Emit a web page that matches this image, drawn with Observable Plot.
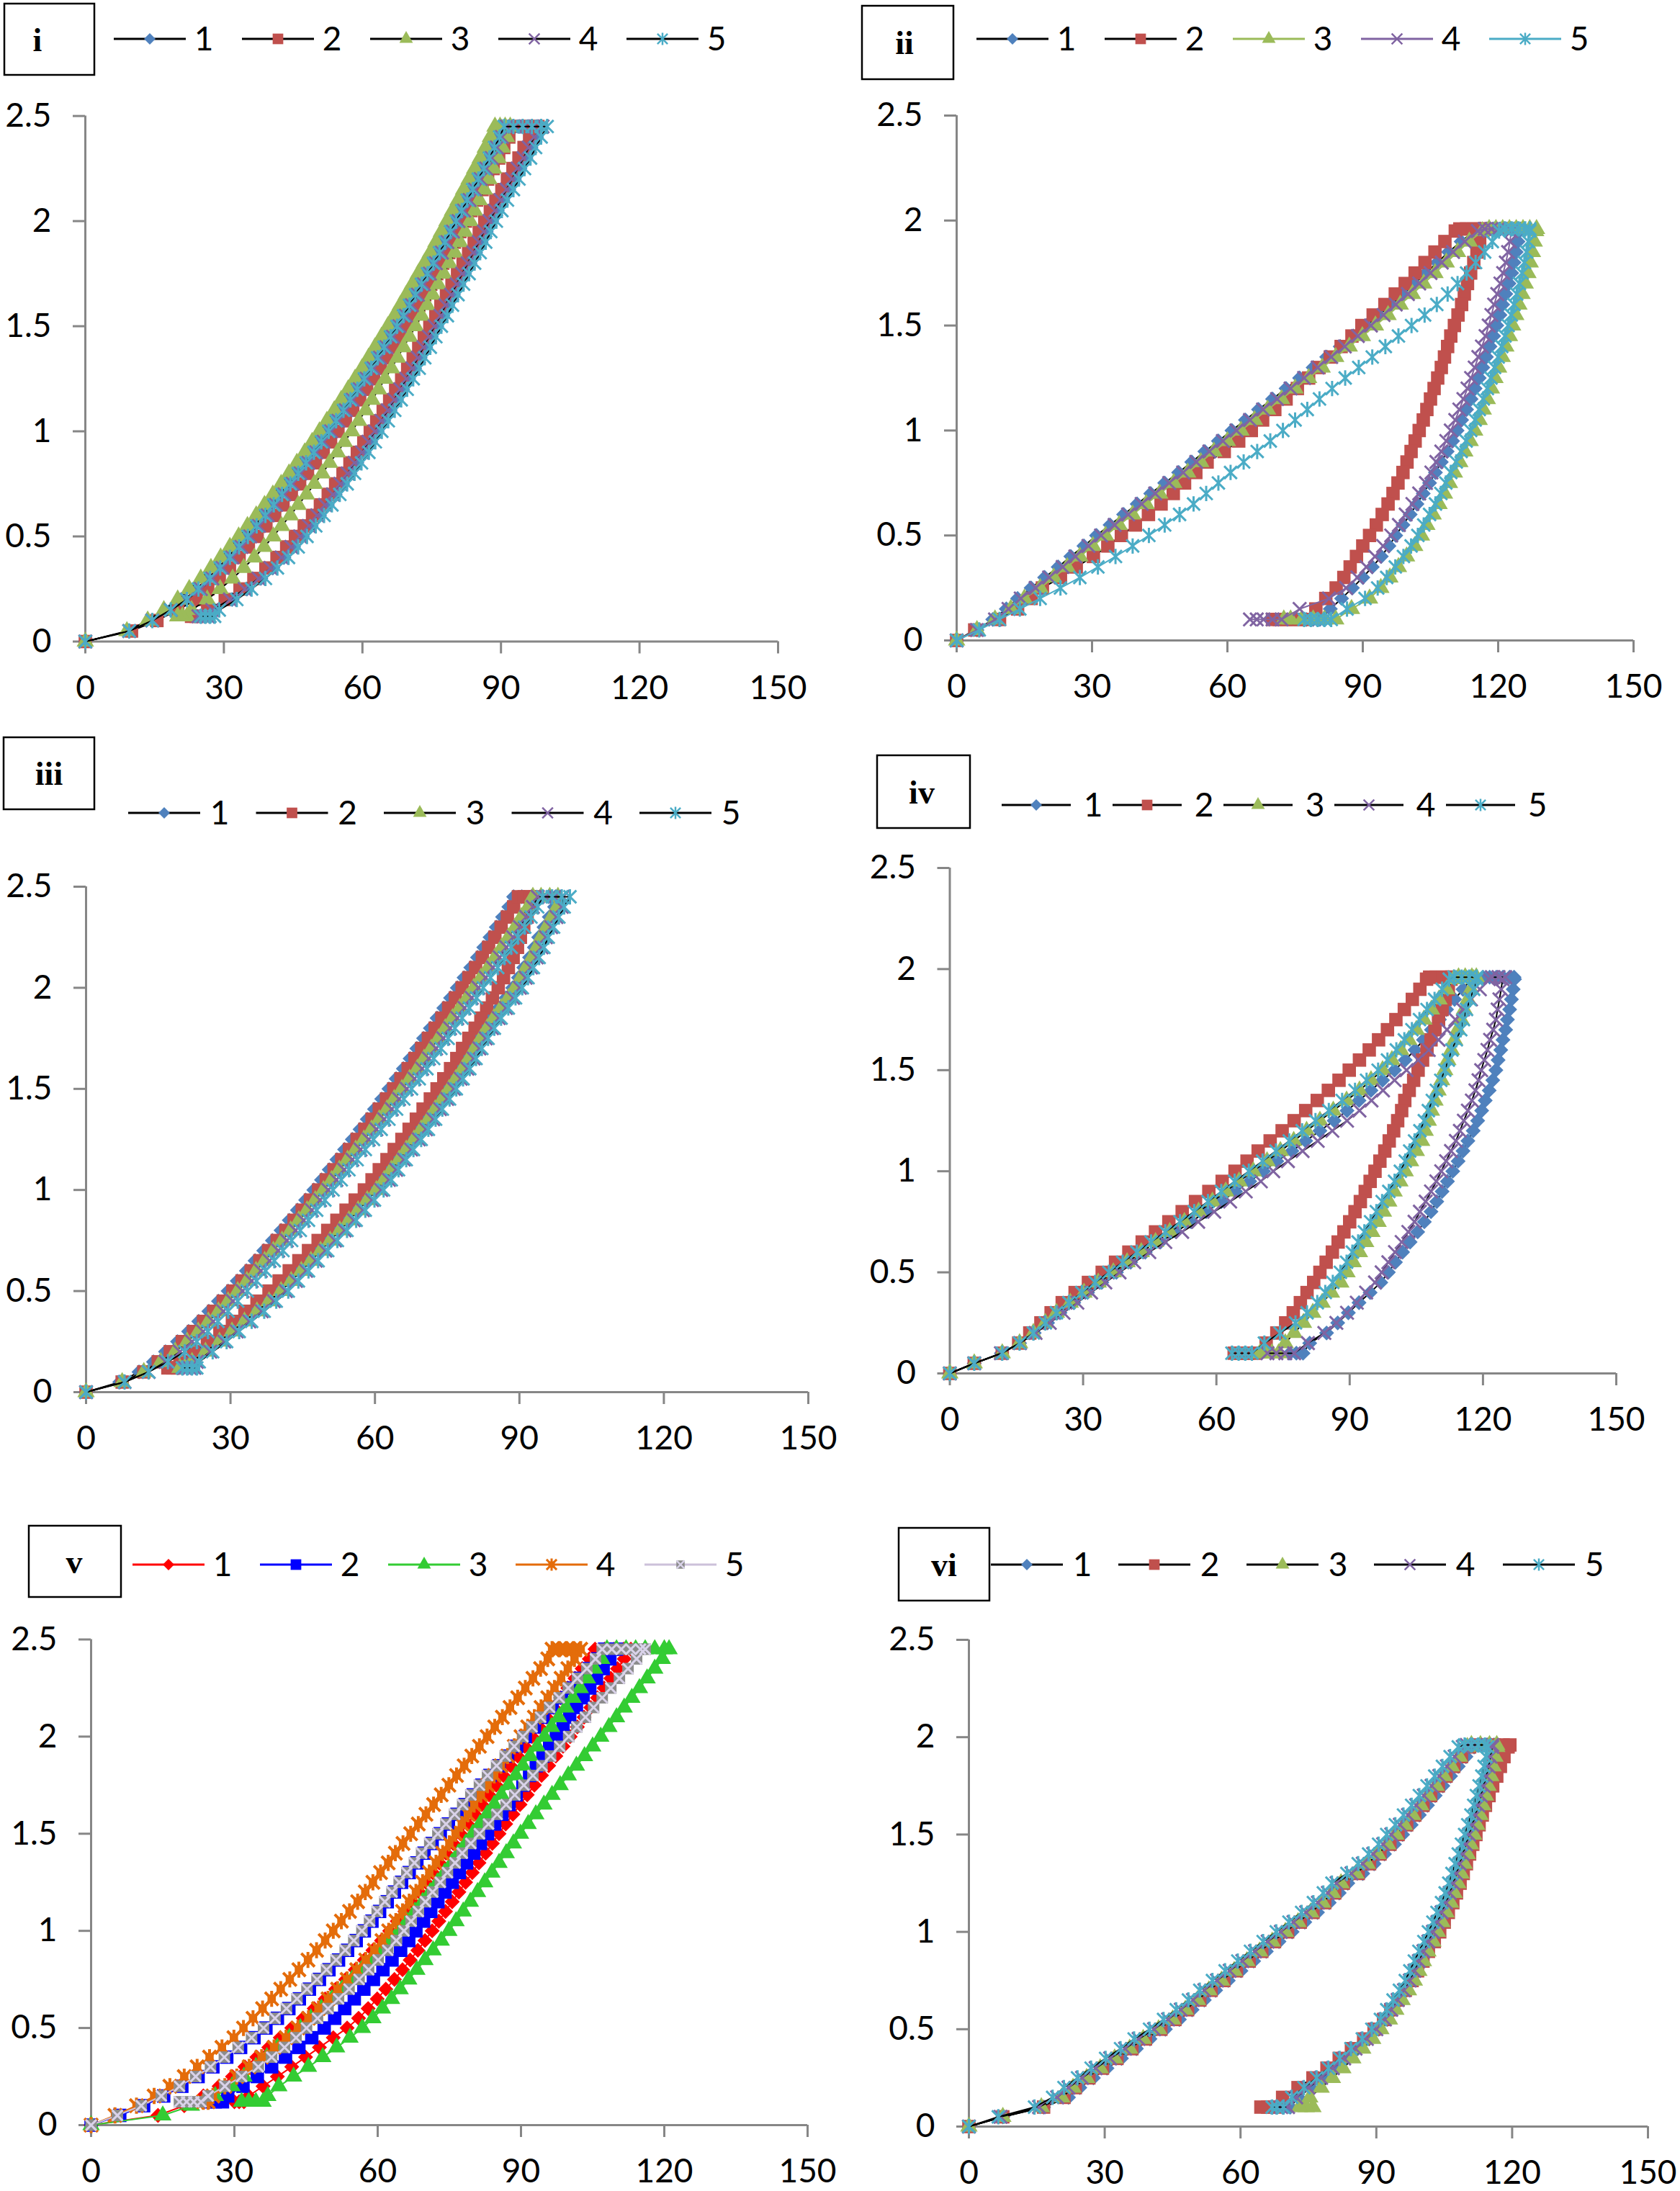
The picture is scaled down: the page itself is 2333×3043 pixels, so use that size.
<!DOCTYPE html>
<html><head><meta charset="utf-8">
<script src="https://cdn.jsdelivr.net/npm/d3@7"></script>
<script src="https://cdn.jsdelivr.net/npm/@observablehq/plot@0.6"></script>
<style>
html,body{margin:0;padding:0;background:#fff}
#root{position:relative;width:2333px;height:3043px;overflow:hidden;background:#fff;font-family:Lato,"Open Sans",sans-serif}
.pan{position:absolute}
#overlay{position:absolute;left:0;top:0;pointer-events:none}
</style></head>
<body><div id="root"></div>
<script>
// ---------- axis ticks, labels ----------
const xTicks = [0, 30, 60, 90, 120, 150];
const yTicks = [0, 0.5, 1, 1.5, 2, 2.5];
const seriesNames = ["1", "2", "3", "4", "5"];
const panelLabels = ["i", "ii", "iii", "iv", "v", "vi"];

// load levels (mN) at which markers were read
const loadLevelsA = [0,0.05,0.1,0.15,0.2,0.25,0.3,0.35,0.4,0.45,0.5,0.55,0.6,0.65,0.7,0.75,0.8,0.85,0.9,0.95,1,1.05,1.1,1.15,1.2,1.25,1.3,1.35,1.4,1.45,1.5,1.55,1.6,1.65,1.7,1.75,1.8,1.85,1.9,1.95,2,2.05,2.1,2.15,2.2,2.25,2.3,2.35,2.4];
const unloadLevelsA = [2.4,2.35,2.3,2.25,2.2,2.15,2.1,2.05,2,1.95,1.9,1.85,1.8,1.75,1.7,1.65,1.6,1.55,1.5,1.45,1.4,1.35,1.3,1.25,1.2,1.15,1.1,1.05,1,0.95,0.9,0.85,0.8,0.75,0.7,0.65,0.6,0.55,0.5,0.45,0.4,0.35,0.3,0.25,0.2,0.15];
const loadLevelsB = [0,0.05,0.1,0.15,0.2,0.25,0.3,0.35,0.4,0.45,0.5,0.55,0.6,0.65,0.7,0.75,0.8,0.85,0.9,0.95,1,1.05,1.1,1.15,1.2,1.25,1.3,1.35,1.4,1.45,1.5,1.55,1.6,1.65,1.7,1.75,1.8,1.85,1.9,1.95];
const unloadLevelsB = [1.95,1.9,1.85,1.8,1.75,1.7,1.65,1.6,1.55,1.5,1.45,1.4,1.35,1.3,1.25,1.2,1.15,1.1,1.05,1,0.95,0.9,0.85,0.8,0.75,0.7,0.65,0.6,0.55,0.5,0.45,0.4,0.35,0.3,0.25,0.2,0.15];
const peakA = 2.45, holdA = 0.12, peakB = 1.96, holdB = 0.1;

// ---------- panel i ----------
const p1Load1 = [0,9.5,14.5,18.5,21.5,24,26.5,28.7,30.8,32.8,34.7,36.6,38.5,40.3,42.1,43.9,45.6,47.3,49,50.6,52.2,53.8,55.4,56.9,58.4,59.9,61.4,62.8,64.2,65.6,67,68.4,69.7,71,72.3,73.6,74.9,76.2,77.4,78.6,79.8,81,82.2,83.4,84.6,85.8,87,88.1,89.2];
const p1Top1 = [90.2,92,94,96,98];
const p1Unload1 = [97.7,96.5,95.4,94.1,92.9,91.7,90.4,89.2,88,86.8,85.7,84.5,83.3,82.1,80.9,79.7,78.5,77.4,76.1,74.9,73.7,72.5,71.3,70,68.7,67.4,66,64.6,63.2,61.8,60.4,58.8,57.3,55.7,54.1,52.4,50.7,48.9,47,45.1,43,40.6,38,35,31.8,28];
const p1Bottom1 = [27,26,25];
const p1Load2 = [0,10,15.5,20,24,26.5,29,31.2,33.3,35.3,37.2,39.1,41,42.8,44.6,46.4,48.1,49.8,51.5,53.1,54.7,56.3,57.9,59.4,60.9,62.4,63.9,65.3,66.7,68.1,69.5,70.9,72.2,73.5,74.8,76.1,77.4,78.7,79.9,81.1,82.3,83.5,84.7,85.9,87.1,88.3,89.5,90.6,91.7];
const p1Top2 = [92.7,94.5,96.3,98];
const p1Unload2 = [96.2,95,93.9,92.6,91.4,90.2,88.9,87.7,86.5,85.3,84.2,83,81.8,80.6,79.4,78.2,77,75.9,74.6,73.4,72.2,71,69.8,68.5,67.2,65.9,64.5,63.1,61.7,60.3,58.9,57.3,55.8,54.2,52.6,50.9,49.2,47.4,45.5,43.6,41.5,39.1,36.5,33.5,30.3,26.5];
const p1Bottom2 = [25,24,23];
const p1Load3 = [0,9,13.5,17,20,22.5,25,27.2,29.3,31.3,33.2,35.1,37,38.8,40.6,42.4,44.1,45.8,47.5,49.1,50.7,52.3,53.9,55.4,56.9,58.4,59.9,61.3,62.7,64.1,65.5,66.9,68.2,69.5,70.8,72.1,73.4,74.7,75.9,77.1,78.3,79.5,80.7,81.9,83.1,84.3,85.5,86.6,87.7];
const p1Top3 = [88.7,89.8,90.9,92];
const p1Unload3 = [91.2,90.3,89.4,88.4,87.4,86.4,85.3,84.3,83.3,82.2,81.1,80,78.8,77.6,76.4,75.2,74,72.8,71.5,70.2,68.9,67.6,66.3,64.9,63.5,62.1,60.7,59.2,57.7,56.1,54.6,52.9,51.3,49.6,47.9,46.1,44.4,42.5,40.7,38.7,36.6,34.3,31.9,29.2,26.4,23];
const p1Bottom3 = [22,21,20];
const p1Load4 = [0,9.5,14.5,18.5,22,25,27.5,29.7,31.8,33.8,35.7,37.6,39.5,41.3,43.1,44.9,46.6,48.3,50,51.6,53.2,54.8,56.4,57.9,59.4,60.9,62.4,63.8,65.2,66.6,68,69.4,70.7,72,73.3,74.6,75.9,77.2,78.4,79.6,80.8,82,83.2,84.4,85.6,86.8,88,89.1,90.2];
const p1Top4 = [91.2,93,95,97,99];
const p1Unload4 = [97.2,96,94.9,93.6,92.4,91.2,89.9,88.7,87.5,86.3,85.2,84,82.8,81.6,80.4,79.2,78,76.9,75.6,74.4,73.2,72,70.8,69.5,68.2,66.9,65.5,64.1,62.7,61.3,59.9,58.3,56.8,55.2,53.6,51.9,50.2,48.4,46.5,44.6,42.5,40.1,37.5,34.5,31.3,27.5];
const p1Bottom4 = [26.5,25.5,24.5];
const p1Load5 = [0,9.5,14.5,18.5,22,24.5,27,29.2,31.3,33.3,35.2,37.1,39,40.8,42.6,44.4,46.1,47.8,49.5,51.1,52.7,54.3,55.9,57.4,58.9,60.4,61.9,63.3,64.7,66.1,67.5,68.9,70.2,71.5,72.8,74.1,75.4,76.7,77.9,79.1,80.3,81.5,82.7,83.9,85.1,86.3,87.5,88.6,89.7];
const p1Top5 = [90.7,92.7,94.7,96.7,98.7,100];
const p1Unload5 = [98.7,97.5,96.4,95.1,93.9,92.7,91.4,90.2,89,87.8,86.7,85.5,84.3,83.1,81.9,80.7,79.5,78.4,77.1,75.9,74.7,73.5,72.3,71,69.7,68.4,67,65.6,64.2,62.8,61.4,59.8,58.3,56.7,55.1,53.4,51.7,49.9,48,46.1,44,41.6,39,36,32.8,29];
const p1Bottom5 = [28,27,26,25];

// ---------- panel ii ----------
const p2Load1 = [0,4.5,8,11,13.5,16.5,19.5,22.5,25.3,28.2,31,34,37,40,43,46.1,49.2,52.1,55,58,61,64,66.9,70,73,76,79,82,85,87.9,90.8,93.6,96.3,99,101.5,104,106.5,109,111.8,114.7];
const p2Top1 = [116,117.5,119,120.5,122,123.5,125];
const p2Unload1 = [124.7,124.4,124,123.5,123,122.4,121.7,121,120.4,119.7,119,118.2,117.4,116.6,115.8,114.9,114,113,111.9,110.9,109.9,108.7,107.4,106.1,104.8,103.4,102,100.5,98.9,97.3,95.8,94.1,92.1,90,87.7,85.3,82.8];
const p2Bottom1 = [80.5,79,77.5];
const p2Load2 = [0,4,9.5,13.5,16.5,19,23,26.5,30.3,33.5,36.5,39.6,42.5,45.3,48,50.5,53,55.5,59.3,62.5,65.3,67.8,70.5,73,75.5,78,80.3,82.8,85.2,87.6,89.8,92.3,94.9,97.2,99.4,101.6,103.8,106,108.2,110.5];
const p2Top2 = [111.5,113,114.5,116,117];
const p2Unload2 = [116.6,115.9,115.3,114.6,113.9,113.2,112.5,111.9,111.1,110.3,109.5,108.8,108.1,107.4,106.6,105.8,105,104.2,103.4,102.5,101.6,100.7,99.8,98.9,97.8,96.7,95.6,94.3,93,91.5,90,88.6,87.2,85.8,84.1,81.8,79.6];
const p2Bottom2 = [77.5,76,74.5,73,71.5,70];
const p2Load3 = [0,4.5,8.5,12,15,18.5,21.5,24.5,27.3,30.2,33,36,39,42,45,48.1,51.2,54.1,57,60,63,66,68.9,72,75,78,81,84,87,89.9,92.8,95.6,98.3,101,103.5,106,108.5,111,113.6,116.5];
const p2Top3 = [118,119.5,121,122.5,124,125.5,127,128.5];
const p2Unload3 = [128.3,128,127.6,127.1,126.6,126,125.3,124.6,123.9,123.2,122.5,121.7,120.9,120.1,119.3,118.5,117.6,116.7,115.8,114.8,113.8,112.6,111.5,110.3,109.2,108.1,106.9,105.6,104.2,103,101.5,99.7,97.9,96,94,91.5,87.5];
const p2Bottom3 = [84,81.5,79,76.5,74,72.5];
const p2Load4 = [0,4.5,8.5,11.5,14.2,17.5,20.5,23.5,26.3,29.2,32,35,38,41,44,47.1,50.2,53.1,56,59,62,65,67.9,71,74,77,80,83,86,88.9,91.8,94.6,97.3,100,102.5,105,107.5,110,112.6,115.5];
const p2Top4 = [117,118.5,120,121.5,123];
const p2Unload4 = [122.9,122.6,122.2,121.7,121.1,120.5,119.8,119.1,118.5,117.9,117.2,116.4,115.6,114.8,114,113.2,112.3,111.4,110.5,109.5,108.5,107.4,106.3,105.2,104,102.5,101,99.5,98,96.3,94.5,92.7,90.8,88.8,86.3,82.5,76];
const p2Bottom4 = [72,70,68,66.5,65];
const p2Load5 = [0,5,9.5,14,18.5,23,27.3,31.3,35.2,39,42.6,46.1,49.4,52.5,55.3,58,60.7,63.6,66.6,69.5,72.3,75,77.7,80.4,83.2,86.1,89.1,92.1,95,97.9,100.8,103.7,106.4,108.8,111,113,115,117,118.7,120.2];
const p2Top5 = [121.5,123,124.5,126,127];
const p2Unload5 = [127,126.7,126.3,125.8,125.3,124.7,124.1,123.5,122.9,122.2,121.5,120.8,120,119.2,118.4,117.6,116.7,115.8,114.9,113.9,112.9,111.8,110.7,109.5,108.4,107.3,106.1,104.8,103.5,102.2,100.7,99,97.2,95.3,93.3,90.5,86.5];
const p2Bottom5 = [83,81.5,80,78.5,77];

// ---------- panel iii ----------
const p3Load1 = [0,7,11,14,16.5,19,21.3,23.4,25.5,27.5,29.5,31.4,33.3,35.1,36.9,38.7,40.5,42.2,43.9,45.6,47.3,48.9,50.5,52.1,53.7,55.3,56.9,58.4,59.9,61.4,62.9,64.4,65.9,67.3,68.7,70.1,71.5,72.9,74.3,75.7,77.1,78.5,79.9,81.3,82.6,83.9,85.2,86.5,87.8];
const p3Top1 = [88.8,90.5,92.5,94.5,96.5,97.5];
const p3Unload1 = [97.3,96.2,95.1,94,93.1,92.1,90.9,89.8,88.6,87.2,85.7,84.2,82.8,81.5,80.2,79,77.7,76.3,74.9,73.5,72,70.6,69.1,67.6,66,64.5,62.9,61.4,59.8,57.9,56,54.1,52.2,50.2,48.2,46.2,44.2,42.1,40,37.5,35,32.4,29.8,27.2,24.3,21.5];
const p3Bottom1 = [21,20,19];
const p3Load2 = [0,7.5,12,15,17.5,20,22.3,24.4,26.5,28.5,30.5,32.4,34.3,36.1,37.9,39.7,41.5,43.2,44.9,46.6,48.3,49.9,51.5,53.1,54.7,56.3,57.9,59.4,60.9,62.4,63.9,65.4,66.9,68.3,69.7,71.1,72.5,73.9,75.3,76.7,78.1,79.5,80.9,82.3,83.6,84.9,86.2,87.5,88.8];
const p3Top2 = [89.8,91,92.2,93.3];
const p3Unload2 = [92.3,91.6,90.9,90.2,89.6,88.7,87.7,86.7,85.6,84.4,83.2,82,80.8,79.5,78.2,77,75.7,74.3,72.9,71.5,70,68.6,67.1,65.6,64,62.5,60.9,59.4,57.8,55.9,54,52.1,50.2,48.2,46.2,44.2,42.2,40.1,38,35.5,33,30.4,27.8,25.2,22.3,19.5];
const p3Bottom2 = [19,18,17];
const p3Load3 = [0,7.5,12,15.5,18.5,21,23.3,25.4,27.5,29.5,31.5,33.4,35.3,37.1,38.9,40.7,42.5,44.2,45.9,47.6,49.3,51,52.6,54.3,56,57.7,59.3,60.9,62.5,64,65.6,67.2,68.8,70.2,71.7,73.2,74.6,76.1,77.6,79.1,80.5,82,83.5,84.9,86.3,87.7,89.1,90.4,91.8];
const p3Top3 = [92.8,94.5,96.3,98];
const p3Unload3 = [97.8,96.7,95.6,94.5,93.6,92.6,91.4,90.3,89.1,87.7,86.2,84.7,83.3,82,80.7,79.5,78.2,76.8,75.4,74,72.5,71.1,69.6,68.1,66.5,65,63.4,61.9,60.3,58.4,56.5,54.6,52.7,50.7,48.7,46.7,44.7,42.6,40.5,38,35.5,32.9,30.3,27.7,24.8,22];
const p3Bottom3 = [21.5,20.5,19.5];
const p3Load4 = [0,8,13,16.5,19.5,22,24.3,26.4,28.5,30.5,32.5,34.4,36.3,38.1,39.9,41.7,43.5,45.2,46.9,48.6,50.3,52,53.6,55.3,57,58.7,60.3,61.9,63.5,65,66.6,68.2,69.8,71.2,72.7,74.2,75.6,77.1,78.6,80.1,81.5,83,84.5,85.9,87.3,88.7,90.1,91.4,92.8];
const p3Top4 = [93.8,95.5,97.3,99];
const p3Unload4 = [98.8,97.7,96.6,95.5,94.6,93.6,92.4,91.3,90.1,88.7,87.2,85.7,84.3,83,81.7,80.5,79.2,77.8,76.4,75,73.5,72.1,70.6,69.1,67.5,66,64.4,62.9,61.3,59.4,57.5,55.6,53.7,51.7,49.7,47.7,45.7,43.6,41.5,39,36.5,33.9,31.3,28.7,25.8,23];
const p3Bottom4 = [22.5,21.5,20.5];
const p3Load5 = [0,8,13,17,20.5,23,25.3,27.4,29.5,31.5,33.5,35.4,37.3,39.1,40.9,42.7,44.5,46.2,47.9,49.6,51.3,53,54.6,56.3,58,59.7,61.3,62.9,64.5,66,67.6,69.2,70.8,72.2,73.7,75.2,76.6,78.1,79.6,81.1,82.5,84,85.5,86.9,88.3,89.7,91.1,92.4,93.8];
const p3Top5 = [94.8,96.8,98.8,100.5];
const p3Unload5 = [99.3,98.2,97.1,96,95.1,94.1,92.9,91.8,90.6,89.2,87.7,86.2,84.8,83.5,82.2,81,79.7,78.3,76.9,75.5,74,72.6,71.1,69.6,68,66.5,64.9,63.4,61.8,59.9,58,56.1,54.2,52.2,50.2,48.2,46.2,44.1,42,39.5,37,34.4,31.8,29.2,26.3,23.5];
const p3Bottom5 = [23,22,21,20];

// ---------- panel iv ----------
const p4Load1 = [0,5.5,11.6,15.7,19,22,24.8,27.9,31,34.2,37.5,40.7,44,47.4,50.9,54.3,57.7,61.1,64.3,67.5,70.6,73.6,77,80.1,83.3,86.5,89.4,92.1,94.8,97.4,100.1,102.5,104.7,106.6,108.4,110.2,111.8,113.6,115.5,117.3];
const p4Top1 = [118.5,120,121.5,123,124.5,126,127];
const p4Unload1 = [127.1,126.8,126.4,126,125.5,125.1,124.5,124,123.4,122.9,122.2,121.4,120.5,119.7,118.8,117.8,116.6,115.5,114.4,113.2,112,110.8,109.6,108.3,106.8,105.3,103.6,101.9,100.3,98.7,97,94.6,92.1,89.7,87.3,84.8,81];
const p4Bottom1 = [79.5,78,76.5];
const p4Load2 = [0,5.5,11.8,15.5,18,20.5,22.8,25.3,28.2,31.2,34.3,37.3,40.3,43.3,46.3,49.3,52.3,55.3,58.3,61.3,64.2,66.9,69.4,72.1,74.8,77.5,80.1,82.7,85.2,87.6,89.9,92.2,94.4,96.5,98.5,100.4,102.3,104.1,105.8,107.3];
const p4Top2 = [108,109.5,111,112.5,113];
const p4Unload2 = [112.8,112.2,111.5,110.8,110,109.2,108.3,107.4,106.4,105.4,104.4,103.4,102.4,101.7,100.8,99.9,98.9,97.9,96.8,95.7,94.6,93.5,92.4,91.2,90,88.7,87.4,86.1,84.7,83.3,81.9,80.4,78.9,77.3,75.6,73.6,71.2];
const p4Bottom2 = [68.5,67,65.5,64];
const p4Load3 = [0,5.5,11.8,15.7,18.8,21.5,24,27.1,30.2,33.4,36.8,39.9,43.1,46.3,49.5,52.8,56,59.1,62.1,65.1,68.3,71.4,74.4,77.4,80.3,83.3,86.3,89.3,92.2,94.8,97.4,99.5,101.5,103.3,105,106.7,108.4,110.1,111.8,113.4];
const p4Top3 = [114.5,116,117.5,118.5];
const p4Unload3 = [117.9,117.3,116.6,115.8,115.1,114.3,113.6,112.9,112.1,111.4,110.7,109.9,109.2,108.4,107.7,107,106.2,105,103.7,102.5,101.3,100,98.8,97.6,96.4,95,93.6,92.2,90.8,89.4,88,85.9,83.8,81.7,79.6,77.5,75.5];
const p4Bottom3 = [74,72.5,71,69.8];
const p4Load4 = [0,5.5,11.5,15.8,19.3,22.5,25.6,28.7,31.8,35,38.2,41.5,44.9,48.5,52.3,55.9,59.5,63.1,66.6,70,72.8,76.1,79.4,82.8,86.1,89.4,92.2,94.9,97.5,100.1,102.8,105.4,107.8,110,111.9,113.8,115.5,117.3,119.3,121.3];
const p4Top4 = [122,123.5,125];
const p4Unload4 = [124.4,124.1,123.7,123.3,122.9,122.3,121.6,121,120.3,119.6,119,118.3,117.5,116.6,115.7,114.8,113.9,112.8,111.7,110.6,109.5,108.3,107.1,105.8,104.6,103.2,101.7,100.2,98.7,97.2,95.7,93.7,91.6,89.4,87,84.3,80.6];
const p4Bottom4 = [77.5,75.5,73.5,71.5];
const p4Load5 = [0,5.5,11.8,15.7,18.8,21.5,24,26.8,29.7,32.7,35.8,38.9,42.1,45.3,48.5,51.8,55,58.1,61.1,64.1,67.3,70.4,73.4,76.4,79.3,82.3,85.3,88.3,91.2,93.8,96.4,98.5,100.5,102.3,104,105.7,107.4,109.1,110.8,112.4];
const p4Top5 = [113.5,115.2,116.9,118.6];
const p4Unload5 = [118.6,117.9,117.1,116.3,115.6,115,114,113,112.2,111.4,110.5,109.5,108.6,107.7,106.8,105.8,104.6,103.5,102.5,101.4,100.1,98.8,97.3,96,94.7,93.3,91.9,90.6,89.3,87.9,86.2,84.5,82.7,80.4,77.8,74.3,70.8];
const p4Bottom5 = [68,66.5,65,63.5];

// ---------- panel v ----------
const p5Load1 = [0,14,19.5,23.5,26.8,29.6,32.2,34.7,37.2,39.6,42,44.4,46.7,49,51.2,53.3,55.3,57.2,59,60.8,62.5,64.1,65.7,67.2,68.7,70.1,71.5,72.9,74.3,75.8,77.3,78.8,80.3,81.8,83.3,84.8,86.3,87.8,89.3,90.8,92.3,93.8,95.3,96.8,98.3,99.8,101.3,102.8,104.3];
const p5Top1 = [105.5,107.5,109.5,111.5,113];
const p5Unload1 = [111.6,110.2,108.8,107.4,106,104.6,103.2,101.8,100.3,98.8,97.3,95.8,94.3,92.8,91.3,89.8,88.3,86.8,85.4,84,82.6,81.2,79.8,78.4,77,75.6,74.2,72.8,71.4,69.9,68.4,66.8,65.2,63.5,61.7,59.9,58,56,53.6,50.7,47.8,44.9,42,39,36,33];
const p5Bottom1 = [32,31,30];
const p5Load2 = [0,6,11,15.2,19,22.4,25.5,28.4,31.3,34.1,36.6,39,41.4,43.6,45.7,47.8,49.8,51.8,53.7,55.5,57.2,58.8,60.4,62,63.5,65,66.6,68.2,69.7,71.4,73.1,74.8,76.6,78.3,80,81.8,83.5,85.4,87.2,89.1,90.9,92.8,94.6,96.5,98.5,100.4,102.3,104.3,106.1];
const p5Top2 = [107.5,109,110];
const p5Unload2 = [108.6,107.2,105.8,104.4,103,101.6,100.2,98.8,97.4,96,94.6,93.2,91.8,90.4,89,87.5,86,84.5,83,81.5,80.1,78.6,77.1,75.6,74.1,72.6,71.1,69.6,68,66.5,64.8,63,61.1,59.1,57.1,55.1,53.1,51,48.8,46.2,43.5,40.7,37.8,34.8,31.8,28.6];
const p5Bottom2 = [27.5,26,24.5];
const p5Load3 = [0,15,21,26,29.5,32,34.5,36.8,39,41.5,43.8,46,48.2,50.4,52.5,54.6,56.6,58.6,60.6,62.6,64.4,66.1,67.8,69.4,71,72.5,74,75.5,76.9,78.4,79.9,81.4,82.9,84.4,85.9,87.4,88.9,90.4,91.9,93.4,94.9,96.4,97.9,99.4,100.9,102.4,103.9,105.4,106.9];
const p5Top3 = [108,110,112,114,116,118,120,121];
const p5Unload3 = [119.6,118,116.4,114.8,113.2,111.6,110,108.4,106.7,105,103.3,101.6,99.9,98.2,96.5,94.8,93.1,91.5,89.9,88.4,86.9,85.4,83.9,82.4,80.9,79.4,77.9,76.4,74.9,73.3,71.6,69.9,68.2,66.5,64.7,62.9,61,59,56.8,54.2,51.4,48.5,45.5,42.4,39.3,37];
const p5Bottom3 = [36,34.5,33,31.5];
const p5Load4 = [0,5,9.5,13.2,16.5,19.5,22.2,24.8,27.4,29.9,31.9,33.9,35.9,37.8,39.7,41.6,43.5,45.4,47.2,49,50.7,52.4,54.1,55.8,57.4,59,60.6,62.2,63.7,65.3,66.9,68.5,70.1,71.7,73.3,74.9,76.5,78.1,79.7,81.3,82.9,84.5,86.1,87.7,89.3,90.9,92.5,94.1,95.6];
const p5Top4 = [96.5,98,99.5,101,102.5];
const p5Unload4 = [101.2,99.8,98.4,97,95.6,94.2,92.8,91.4,90,88.6,87.2,85.8,84.4,83,81.6,80.2,78.9,77.6,76.3,75,73.6,72.2,70.8,69.4,68,66.6,65.2,63.8,62.3,60.9,59.3,57.5,55.6,53.6,51.6,49.6,47.6,45.5,43.3,40.8,38.3,35.7,33.1,30.5,28,25.5];
const p5Bottom4 = [24.5,23.5];
const p5Load5 = [0,5.5,10.5,14.7,18.5,21.9,25,27.9,30.8,33.6,36.1,38.5,40.9,43.1,45.2,47.3,49.3,51.3,53.2,55,56.7,58.3,59.9,61.5,63,64.5,66.1,67.7,69.2,70.9,72.6,74.3,76.1,77.8,79.5,81.3,83,84.9,86.7,88.6,90.4,92.3,94.1,96,98,99.9,101.8,103.8,105.6];
const p5Top5 = [107,109,111,113,115,116];
const p5Unload5 = [114.2,112.4,110.6,108.8,107,105.2,103.5,101.7,100,98.1,96.2,94.4,92.5,90.6,88.7,86.9,85,83.2,81.3,79.5,77.7,76.2,74.6,73.1,71.5,70,68.5,67,65.5,63.9,62.1,60.1,58.1,56.1,54,51.8,49.6,47.4,45.1,42.9,40.5,37.8,35,31.5,28,24.5];
const p5Bottom5 = [23,21.5,20,18.5];

// ---------- panel vi ----------
const p6Load1 = [0,7.5,16.5,22,24.5,27.5,30.5,33.7,37,40,43.4,46.5,49.3,52,54.5,57.3,60.1,62.9,65.7,68.5,71.4,74.2,77,79.6,81.8,83.7,87,89.5,91.8,94,95.8,97.7,99.5,101.3,103,104.7,106.4,108.1,109.8,111.6];
const p6Top1 = [113,114.5,116];
const p6Unload1 = [116.1,115.7,115.3,114.8,114.2,113.6,113,112.4,111.7,111,110.3,109.6,108.9,108.2,107.5,106.7,105.9,104.9,104,103,102,100.9,99.9,98.9,97.9,96.6,95.2,93.8,92.4,90.5,88.4,85.9,83.4,80.9,78.3,75.5,72.8];
const p6Bottom1 = [71,69.5];
const p6Load2 = [0,7.5,16.5,21,23.5,26.5,29.5,32.7,36,39,42.4,45.5,48.3,51,53.5,56.3,59.1,61.9,64.7,67.5,70.4,73.2,76,78.6,80.8,82.7,86,88.5,90.8,93,94.8,96.7,98.5,100.3,102,103.7,105.4,107.1,108.8,110.6];
const p6Top2 = [112,114,116,118,119.5];
const p6Unload2 = [119.1,118.2,117.4,116.6,115.7,114.9,114.1,113.4,112.7,112,111.3,110.6,109.9,109.2,108.5,107.7,106.9,105.9,105,104,102.8,101.5,100.3,99.1,97.9,96.4,94.8,93.2,91.6,89.5,87.2,84.5,81.8,79.1,76,72.7,69.3];
const p6Bottom2 = [67.5,66,64.5];
const p6Load3 = [0,7.5,16,20.5,23,26,29,32.2,35.5,38.5,41.9,45,47.8,50.5,53,55.8,58.6,61.4,64.2,67,69.9,72.7,75.5,78.1,80.3,82.2,85.5,88,90.3,92.5,94.3,96.2,98,99.8,101.5,103.2,104.9,106.6,108.3,110.1];
const p6Top3 = [111,113,115,116.6];
const p6Unload3 = [116.6,116.2,115.8,115.3,114.7,114.1,113.5,112.9,112.2,111.5,110.8,110.1,109.4,108.7,108,107.2,106.4,105.4,104.5,103.5,102.5,101.4,100.4,99.4,98.4,97.1,95.7,94.3,92.9,91,89.2,87,84.8,82.6,80.3,77.8,75.3];
const p6Bottom3 = [76,74.5,73];
const p6Load4 = [0,7,15.5,19.5,22,25,28,31.2,34.5,37.5,40.9,44,46.8,49.5,52,54.8,57.6,60.4,63.2,66,68.9,71.7,74.5,77.1,79.3,81.2,84.5,87,89.3,91.5,93.3,95.2,97,98.8,100.5,102.2,103.9,105.6,107.3,109.1];
const p6Top4 = [110,112,114,115.6];
const p6Unload4 = [115.6,115.2,114.8,114.3,113.7,113.1,112.5,111.9,111.2,110.5,109.8,109.1,108.4,107.7,107,106.2,105.4,104.4,103.5,102.5,101.5,100.4,99.4,98.4,97.4,96.1,94.7,93.3,91.9,90,87.9,85.4,82.9,80.4,77.8,75,72.3];
const p6Bottom4 = [70.5,69,68];
const p6Load5 = [0,6.5,14.5,18.5,21,24,27,30.2,33.5,36.5,39.9,43,45.8,48.5,51,53.8,56.6,59.4,62.2,65,67.9,70.7,73.5,76.1,78.3,80.2,83.5,86,88.3,90.5,92.3,94.2,96,97.8,99.5,101.2,102.9,104.6,106.3,108.1];
const p6Top5 = [109.5,111,112.5,114];
const p6Unload5 = [114.6,114.2,113.8,113.3,112.7,112.1,111.5,110.9,110.2,109.5,108.8,108.1,107.4,106.7,106,105.2,104.4,103.4,102.5,101.5,100.5,99.4,98.4,97.4,96.4,95.1,93.7,92.3,90.9,89,86.9,84.4,81.9,79.4,76.8,74,71.3];
const p6Bottom5 = [69.5,68,67];

// ---------- styling ----------
const xlBlue = "#4F81BD", xlRed = "#C0504D", xlGreen = "#9BBB59", xlPurple = "#8064A2", xlTeal = "#4BACC6";
const axisGray = "#868686";
const excelDiamond = {draw(ctx, size) { const d = Math.sqrt(size) * 0.56; ctx.moveTo(0, -d); ctx.lineTo(d, 0); ctx.lineTo(0, d); ctx.lineTo(-d, 0); ctx.closePath(); }};
const excelTimes = {draw(ctx, size) { const a = Math.sqrt(size) * 0.52; ctx.moveTo(-a, -a); ctx.lineTo(a, a); ctx.moveTo(-a, a); ctx.lineTo(a, -a); }};
const excelStar = {draw(ctx, size) { const a = Math.sqrt(size) * 0.5; ctx.moveTo(-a, -a); ctx.lineTo(a, a); ctx.moveTo(-a, a); ctx.lineTo(a, -a); ctx.moveTo(0, -a * 1.2); ctx.lineTo(0, a * 1.2); }};

const markersStd = [
  [{sym: excelDiamond, fill: xlBlue, r: 10.5}],
  [{sym: "square", fill: xlRed, r: 10.5}],
  [{sym: "triangle", fill: xlGreen, r: 9}],
  [{sym: excelTimes, stroke: xlPurple, r: 10, sw: 3}],
  [{sym: excelStar, stroke: xlTeal, r: 10, sw: 3}]
];
const markersV = [
  [{sym: excelDiamond, fill: "#FF0000", r: 10.5}],
  [{sym: "square", fill: "#0000FF", r: 10.5}],
  [{sym: "triangle", fill: "#33CC33", r: 9}],
  [{sym: "square", fill: "#E46C0A", r: 6.5}, {sym: excelStar, stroke: "#E46C0A", r: 10.5, sw: 4}],
  [{sym: "square", fill: "#8C8C8C", r: 9}, {sym: excelTimes, stroke: "#D9D2E9", r: 8, sw: 3}]
];
const legendMarkersStd = [
  [{sym: excelDiamond, fill: xlBlue, r: 8}],
  [{sym: "square", fill: xlRed, r: 8.3}],
  [{sym: "triangle", fill: xlGreen, r: 7}],
  [{sym: excelTimes, stroke: xlPurple, r: 8, sw: 2.5}],
  [{sym: excelStar, stroke: xlTeal, r: 8, sw: 2.5}]
];
const legendMarkersV = [
  [{sym: excelDiamond, fill: "#FF0000", r: 8}],
  [{sym: "square", fill: "#0000FF", r: 8.3}],
  [{sym: "triangle", fill: "#33CC33", r: 7}],
  [{sym: "square", fill: "#E46C0A", r: 5}, {sym: excelStar, stroke: "#E46C0A", r: 8, sw: 3}],
  [{sym: "square", fill: "#8C8C8C", r: 6.5}, {sym: excelTimes, stroke: "#D9D2E9", r: 6, sw: 2.5}]
];
const blackLines = ["#000", "#000", "#000", "#000", "#000"];

const panels = [
  {label: "i", box: [6, 5, 125, 99], labelX: 52, pos: [0, 130, 1150, 870], m: [118, 70, 30.6, 109.5], kind: "A",
   series: [[p1Load1, p1Top1, p1Unload1, p1Bottom1], [p1Load2, p1Top2, p1Unload2, p1Bottom2], [p1Load3, p1Top3, p1Unload3, p1Bottom3], [p1Load4, p1Top4, p1Unload4, p1Bottom4], [p1Load5, p1Top5, p1Unload5, p1Bottom5]],
   lines: blackLines, markers: markersStd, lmarkers: legendMarkersStd, legend: {y: 54, xs: [208, 386, 564, 742, 920], half: 50, off: 75}},
  {label: "ii", box: [1197, 8, 127, 102], labelX: 1256, pos: [1180, 130, 1153, 870], m: [148, 65, 30, 111], kind: "B",
   series: [[p2Load1, p2Top1, p2Unload1, p2Bottom1], [p2Load2, p2Top2, p2Unload2, p2Bottom2], [p2Load3, p2Top3, p2Unload3, p2Bottom3], [p2Load4, p2Top4, p2Unload4, p2Bottom4], [p2Load5, p2Top5, p2Unload5, p2Bottom5]],
   lines: ["#000", "#000", xlGreen, xlPurple, xlTeal], markers: markersStd, lmarkers: legendMarkersStd, legend: {y: 54, xs: [1406, 1584, 1762, 1940, 2118], half: 50, off: 75}},
  {label: "iii", box: [5, 1024, 126, 100], labelX: 68, pos: [0, 1200, 1180, 850], m: [119, 58, 31, 117], kind: "A",
   series: [[p3Load1, p3Top1, p3Unload1, p3Bottom1], [p3Load2, p3Top2, p3Unload2, p3Bottom2], [p3Load3, p3Top3, p3Unload3, p3Bottom3], [p3Load4, p3Top4, p3Unload4, p3Bottom4], [p3Load5, p3Top5, p3Unload5, p3Bottom5]],
   lines: blackLines, markers: markersStd, lmarkers: legendMarkersStd, legend: {y: 1129, xs: [228, 405.5, 583, 760.5, 938], half: 50, off: 77}},
  {label: "iv", box: [1218, 1049, 129, 101], labelX: 1280, pos: [1180, 1175, 1153, 850], m: [138.5, 89, 30, 118], kind: "B",
   series: [[p4Load1, p4Top1, p4Unload1, p4Bottom1], [p4Load2, p4Top2, p4Unload2, p4Bottom2], [p4Load3, p4Top3, p4Unload3, p4Bottom3], [p4Load4, p4Top4, p4Unload4, p4Bottom4], [p4Load5, p4Top5, p4Unload5, p4Bottom5]],
   lines: blackLines, markers: markersStd, lmarkers: legendMarkersStd, legend: {y: 1118, xs: [1439, 1593, 1747, 1901, 2056], half: 48, off: 79}},
  {label: "v", box: [40, 2119, 128, 99], labelX: 103, pos: [0, 2245, 1180, 798], m: [126, 59, 31.5, 92], kind: "A",
   series: [[p5Load1, p5Top1, p5Unload1, p5Bottom1], [p5Load2, p5Top2, p5Unload2, p5Bottom2], [p5Load3, p5Top3, p5Unload3, p5Bottom3], [p5Load4, p5Top4, p5Unload4, p5Bottom4], [p5Load5, p5Top5, p5Unload5, p5Bottom5]],
   lines: ["#FF0000", "#0000FF", "#33CC33", "#E46C0A", "#CCC1DA"], markers: markersV, lmarkers: legendMarkersV, legend: {y: 2173, xs: [234, 411, 589, 766, 945], half: 50, off: 75}},
  {label: "vi", box: [1248, 2122, 126, 101], labelX: 1311, pos: [1180, 2245, 1153, 798], m: [165, 45, 32, 90], kind: "B",
   series: [[p6Load1, p6Top1, p6Unload1, p6Bottom1], [p6Load2, p6Top2, p6Unload2, p6Bottom2], [p6Load3, p6Top3, p6Unload3, p6Bottom3], [p6Load4, p6Top4, p6Unload4, p6Bottom4], [p6Load5, p6Top5, p6Unload5, p6Bottom5]],
   lines: blackLines, markers: markersStd, lmarkers: legendMarkersStd, legend: {y: 2173, xs: [1426, 1603, 1781, 1958, 2137], half: 50, off: 77}}
];

// pair read displacements with their load levels
function buildRows([load, top, unload, bottom], kind) {
  const lL = kind === "A" ? loadLevelsA : loadLevelsB;
  const uL = kind === "A" ? unloadLevelsA : unloadLevelsB;
  const peak = kind === "A" ? peakA : peakB;
  const hold = kind === "A" ? holdA : holdB;
  const rows = [];
  load.forEach((x, i) => rows.push({x, y: lL[i]}));
  top.forEach(x => rows.push({x, y: peak}));
  unload.forEach((x, i) => rows.push({x, y: uL[i]}));
  bottom.forEach(x => rows.push({x, y: hold}));
  return rows;
}

const root = document.getElementById("root");
const fontFam = "Lato, 'Open Sans', sans-serif";

panels.forEach(p => {
  const [left, top, width, height] = p.pos;
  const [mL, mR, mT, mB] = p.m;
  const marks = [
    Plot.ruleY([0], {stroke: axisGray, strokeWidth: 3}),
    Plot.ruleX([0], {stroke: axisGray, strokeWidth: 3}),
    Plot.axisX({ticks: xTicks, tickSize: 17, tickPadding: 30, stroke: axisGray, strokeWidth: 3, fill: "#000", fontSize: 46, label: null, tickFormat: d => String(d)}),
    Plot.axisY({ticks: yTicks, tickSize: 17, tickPadding: 30, stroke: axisGray, strokeWidth: 3, fill: "#000", fontSize: 46, label: null, tickFormat: d => String(d)})
  ];
  p.series.forEach((s, k) => {
    const rows = buildRows(s, p.kind);
    marks.push(Plot.line(rows, {x: "x", y: "y", stroke: p.lines[k], strokeWidth: 2}));
    p.markers[k].forEach(layer => {
      marks.push(Plot.dot(rows, {x: "x", y: "y", symbol: layer.sym, r: layer.r,
        fill: layer.fill || "none", stroke: layer.stroke || "none", strokeWidth: layer.sw || 0}));
    });
  });
  const chart = Plot.plot({
    width, height, marginLeft: mL, marginRight: mR, marginTop: mT, marginBottom: mB,
    x: {domain: [0, 150]}, y: {domain: [0, 2.5]},
    style: {background: "transparent", fontFamily: fontFam, color: "#000", overflow: "visible"},
    marks
  });
  const div = document.createElement("div");
  div.className = "pan";
  div.style.left = left + "px"; div.style.top = top + "px";
  div.style.width = width + "px"; div.style.height = height + "px";
  div.appendChild(chart);
  root.appendChild(div);
});

// label boxes and legends
const overlay = d3.select(root).append("svg").attr("id", "overlay").attr("width", 2333).attr("height", 3043);
function symType(s) { return s === "square" ? d3.symbolSquare : s === "triangle" ? d3.symbolTriangle : s; }
panels.forEach(p => {
  const [bx, by, bw, bh] = p.box;
  overlay.append("rect").attr("x", bx).attr("y", by).attr("width", bw).attr("height", bh)
    .attr("fill", "#fff").attr("stroke", "#000").attr("stroke-width", 2.5);
  overlay.append("text").attr("x", p.labelX).attr("y", by + bh / 2).attr("dy", "0.35em")
    .attr("text-anchor", "middle").attr("font-family", "'Liberation Serif', 'DejaVu Serif', serif")
    .attr("font-weight", "bold").attr("font-size", 46).attr("fill", "#000").text(p.label);
  const lg = p.legend;
  lg.xs.forEach((mx, k) => {
    overlay.append("line").attr("x1", mx - lg.half).attr("x2", mx + lg.half).attr("y1", lg.y).attr("y2", lg.y)
      .attr("stroke", p.lines[k]).attr("stroke-width", 3);
    p.lmarkers[k].forEach(layer => {
      overlay.append("path").attr("transform", `translate(${mx},${lg.y})`)
        .attr("d", d3.symbol(symType(layer.sym), Math.PI * layer.r * layer.r)())
        .attr("fill", layer.fill || "none").attr("stroke", layer.stroke || "none").attr("stroke-width", layer.sw || 0);
    });
    overlay.append("text").attr("x", mx + lg.off).attr("y", lg.y).attr("dy", "0.35em").attr("text-anchor", "middle")
      .attr("font-family", fontFam).attr("font-size", 46).attr("fill", "#000").text(seriesNames[k]);
  });
});
</script>
</body></html>
